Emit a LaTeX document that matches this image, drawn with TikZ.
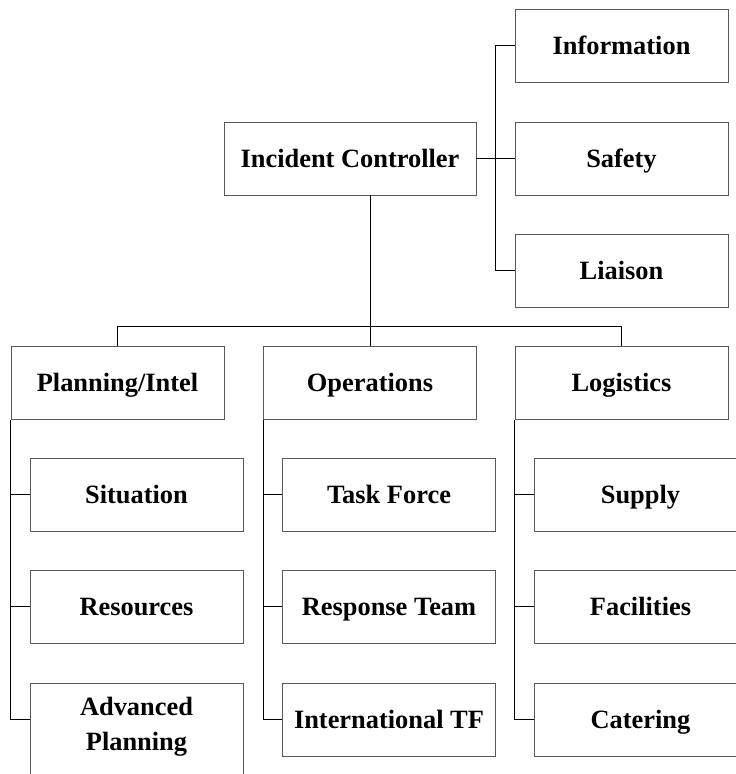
\documentclass[tikz,border=0pt]{standalone}
\usepackage{fontspec}
\setmainfont{Liberation Serif}

\tikzset{
  unit/.style={draw=black!65, line width=0.9pt, minimum width=213pt, minimum height=73pt,
    inner sep=0pt, text height=17.5pt, text depth=0pt,
    font=\fontsize{26.4}{35}\selectfont\bfseries},
  link/.style={draw=black, line width=0.9pt},
}

\begin{document}
\begin{tikzpicture}[x=1pt, y=-1pt, line join=miter]
  \useasboundingbox (0,0) rectangle (736,774);
  \begin{scope}
    \clip (0,0) rectangle (736,774);

    % controller and its staff
    \node[unit, minimum width=252pt] (ctrl) at (350,158.5) {Incident Controller};
    \node[unit] (info)    at (621.5,45.5)  {Information};
    \node[unit] (safety)  at (621.5,158.5) {Safety};
    \node[unit] (liaison) at (621.5,270.5) {Liaison};

    % sections
    \node[unit] (plan) at (117.5,383) {Planning/Intel};
    \node[unit] (ops)  at (370,383)   {Operations};
    \node[unit] (logi) at (621.5,383) {Logistics};

    % units under each section
    \node[unit] (sit) at (136.5,494.5) {Situation};
    \node[unit] (res) at (136.5,606.5) {Resources};
    \node[unit, anchor=north, align=center, text height=53pt, text depth=60pt,
      inner ysep=14pt] (adv) at (136.5,683) {Advanced\\Planning};

    \node[unit] (tf)   at (389,494.5) {Task Force};
    \node[unit] (resp) at (389,606.5) {Response Team};
    \node[unit] (intl) at (389,719.5) {International TF};

    \node[unit] (sup) at (640.5,494.5) {Supply};
    \node[unit] (fac) at (640.5,606.5) {Facilities};
    \node[unit] (cat) at (640.5,719.5) {Catering};

    % staff bus
    \draw[link] (ctrl.east) -- (safety.west);
    \draw[link] (info.west) -- ++(-19,0) |- (liaison.west);

    % down to the sections
    \draw[link] (ctrl.south -| ops.north) -- (ops.north);
    \draw[link] (plan.north) |- ++(0,-20) -| (logi.north);

    % section columns
    \foreach \sec/\a/\b/\c in {plan/sit/res/adv, ops/tf/resp/intl, logi/sup/fac/cat}{
      \draw[link] (\sec.south west) |- (\a.west);
      \draw[link] (\sec.south west) |- (\b.west);
      \draw[link] (\sec.south west) |- (\c.west |- intl.west);
    }
  \end{scope}
\end{tikzpicture}
\end{document}
